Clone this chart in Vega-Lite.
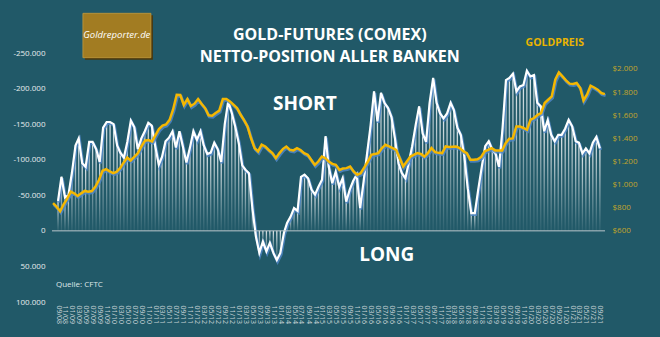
{
 "$schema": "https://vega.github.io/schema/vega-lite/v6.json",
 "width": 553, "height": 249,
 "autosize": {"type": "none"},
 "padding": {"left": 52, "top": 53, "right": 55, "bottom": 35},
 "background": "#215968",
 "config": {"view": {"stroke": null}, "font": "Open Sans", "axis": {"labelOverlap": false, "labelFlush": false}},
 "datasets": {"gold": [
{"d":"2008-09-01","n":-42000,"g":840},{"d":"2008-10-01","n":-76000,"g":810},{"d":"2008-11-01","n":-47000,"g":770},{"d":"2008-12-01","n":-50000,"g":830},
{"d":"2009-01-01","n":-82000,"g":880},{"d":"2009-02-01","n":-120000,"g":940},{"d":"2009-03-01","n":-130000,"g":925},{"d":"2009-04-01","n":-95000,"g":903},{"d":"2009-05-01","n":-90000,"g":925},{"d":"2009-06-01","n":-125000,"g":946},{"d":"2009-07-01","n":-125000,"g":940},{"d":"2009-08-01","n":-115000,"g":945},{"d":"2009-09-01","n":-97000,"g":983},{"d":"2009-10-01","n":-145000,"g":1040},{"d":"2009-11-01","n":-153000,"g":1120},{"d":"2009-12-01","n":-153000,"g":1134},
{"d":"2010-01-01","n":-150000,"g":1115},{"d":"2010-02-01","n":-120000,"g":1100},{"d":"2010-03-01","n":-110000,"g":1110},{"d":"2010-04-01","n":-103000,"g":1143},{"d":"2010-05-01","n":-125000,"g":1190},{"d":"2010-06-01","n":-155000,"g":1235},{"d":"2010-07-01","n":-146000,"g":1209},{"d":"2010-08-01","n":-115000,"g":1240},{"d":"2010-09-01","n":-130000,"g":1272},{"d":"2010-10-01","n":-140000,"g":1330},{"d":"2010-11-01","n":-152000,"g":1380},{"d":"2010-12-01","n":-148000,"g":1385},
{"d":"2011-01-01","n":-119000,"g":1373},{"d":"2011-02-01","n":-93000,"g":1431},{"d":"2011-03-01","n":-104000,"g":1480},{"d":"2011-04-01","n":-126000,"g":1510},{"d":"2011-05-01","n":-131000,"g":1520},{"d":"2011-06-01","n":-140000,"g":1560},{"d":"2011-07-01","n":-117000,"g":1650},{"d":"2011-08-01","n":-140000,"g":1777},{"d":"2011-09-01","n":-118000,"g":1775},{"d":"2011-10-01","n":-96000,"g":1690},{"d":"2011-11-01","n":-117000,"g":1740},{"d":"2011-12-01","n":-140000,"g":1680},
{"d":"2012-01-01","n":-128000,"g":1700},{"d":"2012-02-01","n":-140000,"g":1740},{"d":"2012-03-01","n":-120000,"g":1700},{"d":"2012-04-01","n":-108000,"g":1662},{"d":"2012-05-01","n":-110000,"g":1600},{"d":"2012-06-01","n":-124000,"g":1596},{"d":"2012-07-01","n":-115000,"g":1620},{"d":"2012-08-01","n":-97000,"g":1640},{"d":"2012-09-01","n":-150000,"g":1740},{"d":"2012-10-01","n":-182000,"g":1740},{"d":"2012-11-01","n":-166000,"g":1720},{"d":"2012-12-01","n":-147000,"g":1691},
{"d":"2013-01-01","n":-124000,"g":1662},{"d":"2013-02-01","n":-92000,"g":1604},{"d":"2013-03-01","n":-86000,"g":1560},{"d":"2013-04-01","n":-81000,"g":1503},{"d":"2013-05-01","n":-32000,"g":1403},{"d":"2013-06-01","n":8000,"g":1316},{"d":"2013-07-01","n":31000,"g":1287},{"d":"2013-08-01","n":15000,"g":1345},{"d":"2013-09-01","n":29000,"g":1330},{"d":"2013-10-01","n":17000,"g":1300},{"d":"2013-11-01","n":31000,"g":1273},{"d":"2013-12-01","n":41000,"g":1229},
{"d":"2014-01-01","n":31000,"g":1273},{"d":"2014-02-01","n":3000,"g":1310},{"d":"2014-03-01","n":-11000,"g":1330},{"d":"2014-04-01","n":-20000,"g":1301},{"d":"2014-05-01","n":-32000,"g":1296},{"d":"2014-06-01","n":-28000,"g":1316},{"d":"2014-07-01","n":-76000,"g":1300},{"d":"2014-08-01","n":-79000,"g":1273},{"d":"2014-09-01","n":-74000,"g":1258},{"d":"2014-10-01","n":-58000,"g":1215},{"d":"2014-11-01","n":-51000,"g":1171},{"d":"2014-12-01","n":-62000,"g":1200},
{"d":"2015-01-01","n":-72000,"g":1243},{"d":"2015-02-01","n":-133000,"g":1229},{"d":"2015-03-01","n":-90000,"g":1200},{"d":"2015-04-01","n":-67000,"g":1180},{"d":"2015-05-01","n":-83000,"g":1171},{"d":"2015-06-01","n":-62000,"g":1128},{"d":"2015-07-01","n":-74000,"g":1140},{"d":"2015-08-01","n":-41000,"g":1143},{"d":"2015-09-01","n":-58000,"g":1157},{"d":"2015-10-01","n":-70000,"g":1114},{"d":"2015-11-01","n":-79000,"g":1085},{"d":"2015-12-01","n":-32000,"g":1099},
{"d":"2016-01-01","n":-70000,"g":1150},{"d":"2016-02-01","n":-110000,"g":1200},{"d":"2016-03-01","n":-147000,"g":1258},{"d":"2016-04-01","n":-196000,"g":1265},{"d":"2016-05-01","n":-154000,"g":1273},{"d":"2016-06-01","n":-194000,"g":1316},{"d":"2016-07-01","n":-180000,"g":1345},{"d":"2016-08-01","n":-173000,"g":1330},{"d":"2016-09-01","n":-160000,"g":1315},{"d":"2016-10-01","n":-130000,"g":1301},{"d":"2016-11-01","n":-95000,"g":1229},{"d":"2016-12-01","n":-81000,"g":1157},
{"d":"2017-01-01","n":-74000,"g":1200},{"d":"2017-02-01","n":-97000,"g":1243},{"d":"2017-03-01","n":-119000,"g":1258},{"d":"2017-04-01","n":-149000,"g":1273},{"d":"2017-05-01","n":-175000,"g":1265},{"d":"2017-06-01","n":-137000,"g":1243},{"d":"2017-07-01","n":-125000,"g":1273},{"d":"2017-08-01","n":-180000,"g":1316},{"d":"2017-09-01","n":-215000,"g":1281},{"d":"2017-10-01","n":-180000,"g":1275},{"d":"2017-11-01","n":-165000,"g":1273},{"d":"2017-12-01","n":-158000,"g":1330},
{"d":"2018-01-01","n":-165000,"g":1325},{"d":"2018-02-01","n":-180000,"g":1328},{"d":"2018-03-01","n":-170000,"g":1330},{"d":"2018-04-01","n":-145000,"g":1316},{"d":"2018-05-01","n":-135000,"g":1290},{"d":"2018-06-01","n":-105000,"g":1273},{"d":"2018-07-01","n":-60000,"g":1215},{"d":"2018-08-01","n":-25000,"g":1215},{"d":"2018-09-01","n":-25000,"g":1220},{"d":"2018-10-01","n":-58000,"g":1238},{"d":"2018-11-01","n":-90000,"g":1287},{"d":"2018-12-01","n":-119000,"g":1300},
{"d":"2019-01-01","n":-126000,"g":1316},{"d":"2019-02-01","n":-114000,"g":1296},{"d":"2019-03-01","n":-109000,"g":1296},{"d":"2019-04-01","n":-90000,"g":1296},{"d":"2019-05-01","n":-142000,"g":1359},{"d":"2019-06-01","n":-212000,"g":1397},{"d":"2019-07-01","n":-215000,"g":1400},{"d":"2019-08-01","n":-221000,"g":1503},{"d":"2019-09-01","n":-196000,"g":1503},{"d":"2019-10-01","n":-203000,"g":1490},{"d":"2019-11-01","n":-205000,"g":1474},{"d":"2019-12-01","n":-225000,"g":1561},
{"d":"2020-01-01","n":-217000,"g":1576},{"d":"2020-02-01","n":-219000,"g":1604},{"d":"2020-03-01","n":-180000,"g":1619},{"d":"2020-04-01","n":-175000,"g":1706},{"d":"2020-05-01","n":-140000,"g":1734},{"d":"2020-06-01","n":-156000,"g":1763},{"d":"2020-07-01","n":-135000,"g":1907},{"d":"2020-08-01","n":-126000,"g":1970},{"d":"2020-09-01","n":-135000,"g":1936},{"d":"2020-10-01","n":-135000,"g":1901},{"d":"2020-11-01","n":-144000,"g":1873},{"d":"2020-12-01","n":-156000,"g":1870},
{"d":"2021-01-01","n":-147000,"g":1879},{"d":"2021-02-01","n":-126000,"g":1836},{"d":"2021-03-01","n":-124000,"g":1728},{"d":"2021-04-01","n":-109000,"g":1780},{"d":"2021-05-01","n":-116000,"g":1855},{"d":"2021-06-01","n":-109000,"g":1840},{"d":"2021-07-01","n":-124000,"g":1821},{"d":"2021-08-01","n":-132000,"g":1792},{"d":"2021-09-01","n":-116000,"g":1783}
 ], "one": [{"k": 1}]},
 "layer": [
  {
   "data": {"name": "gold"},
   "encoding": {
    "x": {"field": "d", "type": "temporal",
     "scale": {"type": "utc", "domain": [{"year": 2008, "month": 8, "date": 23, "utc": true}, {"year": 2021, "month": 9, "date": 2, "utc": true}]},
     "axis": {"orient": "bottom", "labelExpr": "utcFormat(datum.value, '%m/%y')", "tickCount": {"interval": "month", "step": 2}, "labelAngle": 90, "labelAlign": "left", "labelBaseline": "middle", "labelFontSize": 7, "labelColor": "#c8d3d6", "labelPadding": 3, "domain": false, "ticks": false, "grid": false, "title": null, "labelOverlap": false, "labelFlush": false, "labelBound": false}},
    "y": {"field": "n", "type": "quantitative",
     "scale": {"domain": [-250000, 100000], "reverse": true, "nice": false, "zero": false},
     "axis": {"values": [-250000, -200000, -150000, -100000, -50000, 0, 50000, 100000], "labelExpr": "replace(replace(format(datum.value, ',.0f'), ',', '.'), '\u2212', '-')", "domain": false, "ticks": false, "grid": false, "title": null, "labelColor": "#e6ecee", "labelFontSize": 8, "labelPadding": 7, "labelOverlap": false, "labelFlush": false}}
   },
   "layer": [
    {"mark": {"type": "bar", "size": 1.3, "color": {"gradient": "linear", "x1": 0, "y1": 0, "x2": 0, "y2": 1, "stops": [{"offset": 0, "color": "rgba(255,255,255,0.85)"}, {"offset": 1, "color": "rgba(255,255,255,0.05)"}]}}},
    {"mark": {"type": "line", "color": "#4f86c6", "strokeWidth": 3, "yOffset": 1.5, "xOffset": 0.8, "opacity": 0.85}},
    {"mark": {"type": "line", "color": "#ffffff", "strokeWidth": 2.2}}
   ]
  },
  {
   "data": {"name": "gold"},
   "encoding": {
    "x": {"field": "d", "type": "temporal", "axis": null,
     "scale": {"type": "utc", "domain": [{"year": 2008, "month": 8, "date": 23, "utc": true}, {"year": 2021, "month": 9, "date": 2, "utc": true}]}},
    "y": {"field": "g", "type": "quantitative",
     "scale": {"domain": [-14, 2138], "nice": false, "zero": false},
     "axis": {"orient": "right", "values": [600, 800, 1000, 1200, 1400, 1600, 1800, 2000], "labelExpr": "'$' + replace(format(datum.value, ',.0f'), ',', '.')", "domain": false, "ticks": false, "grid": false, "title": null, "labelColor": "#c4a52c", "labelFontSize": 8, "labelPadding": 7, "labelOverlap": false}}
   },
   "layer": [
    {"mark": {"type": "line", "color": "#4f86c6", "strokeWidth": 3, "yOffset": 1.5, "xOffset": 0.8, "opacity": 0.85}},
    {"mark": {"type": "line", "color": "#f5b700", "strokeWidth": 2.5}}
   ]
  },
  {
   "data": {"name": "one"},
   "layer": [
    {"mark": {"type": "rule", "color": "#b9c6ca", "strokeWidth": 1},
     "encoding": {"y": {"datum": 0, "axis": null, "scale": {"domain": [-250000, 100000], "reverse": true, "nice": false, "zero": false}}}},
    {"mark": {"type": "rect", "color": "#4a380c", "xOffset": 2, "x2Offset": 2, "yOffset": 2, "y2Offset": 2},
     "encoding": {"x": {"datum": {"year": 2009, "month": 5, "date": 16, "utc": true}, "axis": null, "scale": {"type": "utc", "domain": [{"year": 2008, "month": 8, "date": 23, "utc": true}, {"year": 2021, "month": 9, "date": 2, "utc": true}]}}, "x2": {"datum": {"year": 2010, "month": 12, "date": 22, "utc": true}}, "y": {"datum": -305800, "axis": null, "scale": {"domain": [-250000, 100000], "reverse": true, "nice": false, "zero": false}}, "y2": {"datum": -243400}}},
    {"mark": {"type": "rect", "color": "#a27c22", "stroke": "#c29a3e", "strokeWidth": 0.8},
     "encoding": {"x": {"datum": {"year": 2009, "month": 5, "date": 16, "utc": true}, "axis": null, "scale": {"type": "utc", "domain": [{"year": 2008, "month": 8, "date": 23, "utc": true}, {"year": 2021, "month": 9, "date": 2, "utc": true}]}}, "x2": {"datum": {"year": 2010, "month": 12, "date": 22, "utc": true}}, "y": {"datum": -305800, "axis": null, "scale": {"domain": [-250000, 100000], "reverse": true, "nice": false, "zero": false}}, "y2": {"datum": -243400}}},
    {"mark": {"type": "text", "color": "#ffffff", "fontSize": 9.5, "fontStyle": "italic", "align": "center", "baseline": "middle"},
     "encoding": {"x": {"datum": {"year": 2010, "month": 3, "date": 4, "utc": true}, "axis": null, "scale": {"type": "utc", "domain": [{"year": 2008, "month": 8, "date": 23, "utc": true}, {"year": 2021, "month": 9, "date": 2, "utc": true}]}}, "y": {"datum": -274600, "axis": null, "scale": {"domain": [-250000, 100000], "reverse": true, "nice": false, "zero": false}}, "text": {"value": "Goldreporter.de"}}},
    {"mark": {"type": "text", "color": "#ffffff", "fontSize": 16, "fontWeight": "bold", "align": "center", "baseline": "alphabetic", "lineHeight": 22},
     "encoding": {"x": {"datum": {"year": 2015, "month": 3, "date": 10, "utc": true}, "axis": null, "scale": {"type": "utc", "domain": [{"year": 2008, "month": 8, "date": 23, "utc": true}, {"year": 2021, "month": 9, "date": 2, "utc": true}]}}, "y": {"datum": -268300, "axis": null, "scale": {"domain": [-250000, 100000], "reverse": true, "nice": false, "zero": false}}, "text": {"value": ["GOLD-FUTURES (COMEX)", "NETTO-POSITION ALLER BANKEN"]}}},
    {"mark": {"type": "text", "color": "#ffffff", "fontSize": 19, "fontWeight": "bold", "align": "center", "baseline": "middle"},
     "encoding": {"x": {"datum": {"year": 2014, "month": 8, "date": 7, "utc": true}, "axis": null, "scale": {"type": "utc", "domain": [{"year": 2008, "month": 8, "date": 23, "utc": true}, {"year": 2021, "month": 9, "date": 2, "utc": true}]}}, "y": {"datum": -178300, "axis": null, "scale": {"domain": [-250000, 100000], "reverse": true, "nice": false, "zero": false}}, "text": {"value": "SHORT"}}},
    {"mark": {"type": "text", "color": "#ffffff", "fontSize": 19, "fontWeight": "bold", "align": "center", "baseline": "middle"},
     "encoding": {"x": {"datum": {"year": 2016, "month": 7, "date": 12, "utc": true}, "axis": null, "scale": {"type": "utc", "domain": [{"year": 2008, "month": 8, "date": 23, "utc": true}, {"year": 2021, "month": 9, "date": 2, "utc": true}]}}, "y": {"datum": 33900, "axis": null, "scale": {"domain": [-250000, 100000], "reverse": true, "nice": false, "zero": false}}, "text": {"value": "LONG"}}},
    {"mark": {"type": "text", "color": "#e9b400", "fontSize": 10.5, "fontWeight": "bold", "align": "center", "baseline": "middle"},
     "encoding": {"x": {"datum": {"year": 2020, "month": 6, "date": 27, "utc": true}, "axis": null, "scale": {"type": "utc", "domain": [{"year": 2008, "month": 8, "date": 23, "utc": true}, {"year": 2021, "month": 9, "date": 2, "utc": true}]}}, "y": {"datum": -264000, "axis": null, "scale": {"domain": [-250000, 100000], "reverse": true, "nice": false, "zero": false}}, "text": {"value": "GOLDPREIS"}}},
    {"mark": {"type": "text", "color": "#dfe6e8", "fontSize": 8, "align": "left", "baseline": "middle"},
     "encoding": {"x": {"datum": {"year": 2008, "month": 9, "date": 26, "utc": true}, "axis": null, "scale": {"type": "utc", "domain": [{"year": 2008, "month": 8, "date": 23, "utc": true}, {"year": 2021, "month": 9, "date": 2, "utc": true}]}}, "y": {"datum": 76100, "axis": null, "scale": {"domain": [-250000, 100000], "reverse": true, "nice": false, "zero": false}}, "text": {"value": "Quelle: CFTC"}}}
   ]
  }
 ],
 "resolve": {"scale": {"x": "independent", "y": "independent"}, "axis": {"x": "independent", "y": "independent"}}
}
